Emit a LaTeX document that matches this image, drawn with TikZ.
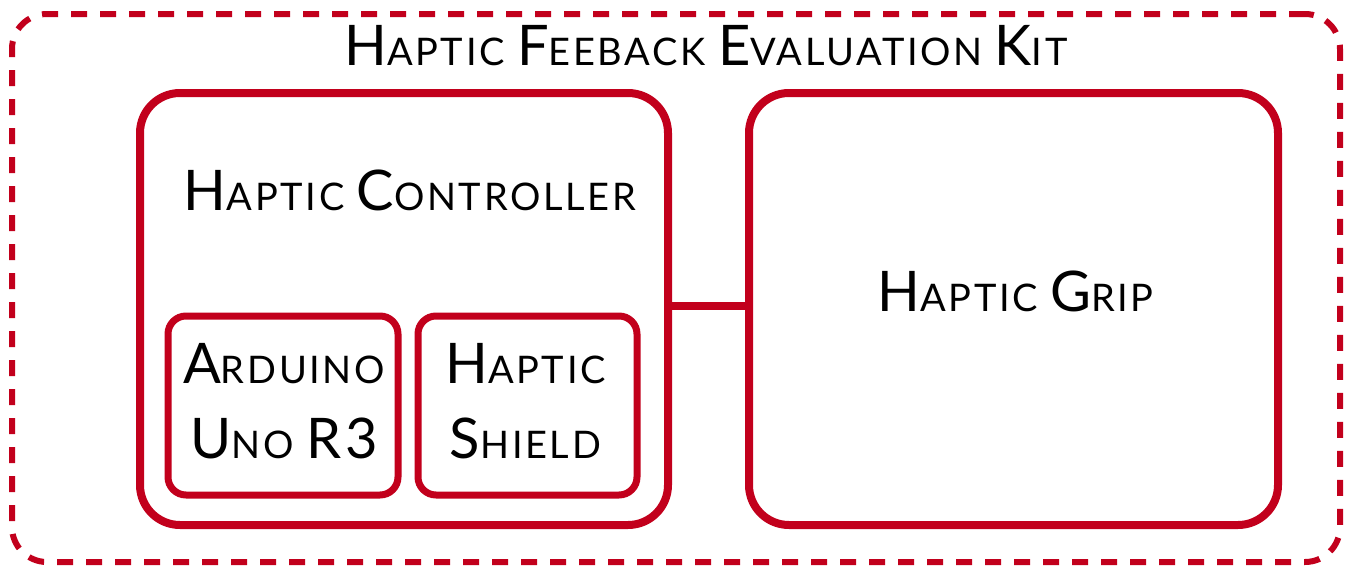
\documentclass[tikz,border=0pt]{standalone}
\usepackage{fontspec}
\setmainfont[LetterSpace=7]{Lato}
\usepackage{tikz}
\usetikzlibrary{calc}

\definecolor{kitred}{HTML}{C2001C}
% fake small caps: first letter big, rest small
\newcommand{\capbig}[1]{{\fontsize{56}{75}\selectfont #1}}
\newcommand{\capsmall}[1]{{\fontsize{38}{75}\selectfont #1}}
\newcommand{\scw}[2]{\capbig{#1}\capsmall{#2}}

\tikzset{
  block/.style={draw=kitred, line width=8pt, rounded corners=40pt, inner sep=0pt, outer sep=0pt},
  subblock/.style={draw=kitred, line width=7pt, rounded corners=18pt, inner sep=0pt, outer sep=0pt},
  label/.style={inner sep=0pt, text=black, align=center, font=\fontsize{38}{75}\selectfont}
}

\begin{document}
\begin{tikzpicture}[x=1pt,y=-1pt]
\useasboundingbox (0,0) rectangle (1350,570);

\node[draw=kitred, line width=6pt, dash pattern=on 16pt off 13pt, rounded corners=35pt,
      minimum width=1328pt, minimum height=548pt, inner sep=0pt] (kit) at (676,288) {};
\node[label] (kittitle) at (706,46) {\scw{H}{APTIC} \scw{F}{EEBACK} \scw{E}{VALUATION} \scw{K}{IT}};

\node[block, minimum width=528pt, minimum height=432pt] (ctrl) at (404,309) {};
\node[label] (ctrltitle) at (410,190) {\scw{H}{APTIC} \scw{C}{ONTROLLER}};

\node[block, minimum width=529pt, minimum height=432pt] (grip) at (1013.5,309) {};
\node[label] (griptitle) at ($(grip.center)+(2,-18)$) {\scw{H}{APTIC} \scw{G}{RIP}};

\node[subblock, minimum width=230pt, minimum height=179pt] (uno) at (283,405.5) {};
\node[label] (unotitle) at ($(uno.center)+(1,-4)$) {\scw{A}{RDUINO}\\\scw{U}{NO} \capbig{R3}};
\node[subblock, minimum width=219pt, minimum height=179pt] (shield) at (527.5,405.5) {};
\node[label] (shieldtitle) at ($(shield.center)+(-2,-4)$) {\scw{H}{APTIC}\\\scw{S}{HIELD}};

\draw[kitred, line width=8pt] (ctrl.east |- 0,306) -- (grip.west |- 0,306);

\end{tikzpicture}
\end{document}
